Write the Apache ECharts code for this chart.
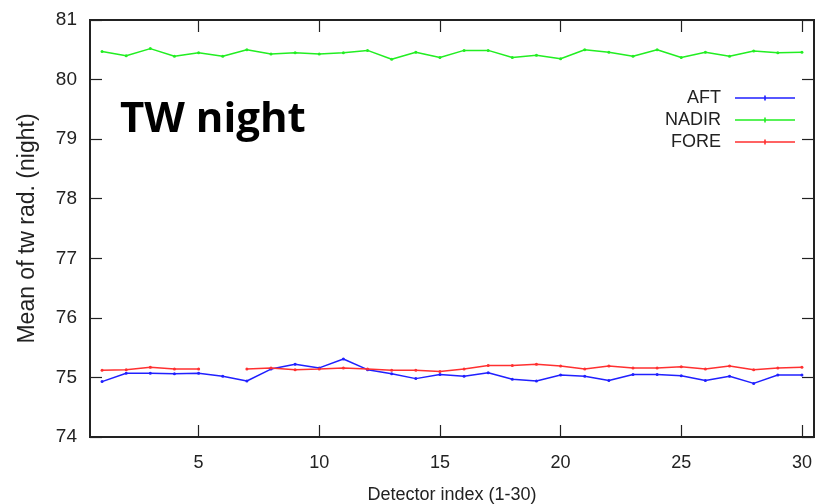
<!DOCTYPE html>
<html>
<head>
<meta charset="utf-8">
<script src="https://cdn.jsdelivr.net/npm/echarts@6/dist/echarts.min.js"></script>
<style>html,body{margin:0;padding:0;background:#fff;}#c{width:820px;height:504px;}</style>
</head>
<body>
<div id="c"></div>
<script>
const detectors = [1,2,3,4,5,6,7,8,9,10,11,12,13,14,15,16,17,18,19,20,21,22,23,24,25,26,27,28,29,30];
const aft = [74.93,75.07,75.07,75.06,75.07,75.02,74.94,75.14,75.22,75.16,75.31,75.13,75.06,74.98,75.05,
             75.02,75.08,74.97,74.94,75.04,75.02,74.95,75.05,75.05,75.03,74.95,75.02,74.90,75.04,75.04];
const nadir = [80.47,80.40,80.52,80.39,80.45,80.39,80.50,80.43,80.45,80.43,80.45,80.49,80.34,80.46,80.37,
               80.49,80.49,80.37,80.41,80.35,80.50,80.46,80.39,80.50,80.37,80.46,80.39,80.48,80.45,80.46];
const fore = [75.12,75.13,75.17,75.14,75.14,null,75.14,75.16,75.13,75.14,75.16,75.14,75.12,75.12,75.10,
              75.14,75.20,75.20,75.22,75.19,75.14,75.19,75.16,75.16,75.18,75.14,75.19,75.13,75.16,75.17];
const seriesNames = ['AFT','NADIR','FORE'];
const seriesColors = ['#2020ff','#22ee22','#ff3030'];
const xTicks = [5,10,15,20,25,30];
const yTicks = [74,75,76,77,78,79,80,81];
const titleText = 'TW night';

const chart = echarts.init(document.getElementById('c'), null, {renderer:'canvas'});
const font = 'Liberation Sans, Arial, sans-serif';
const pair = (arr) => detectors.map((d,i) => [d, arr[i]]);
const mk = (name, arr, color) => ({
  name, type:'line', data: pair(arr), xAxisIndex:0, yAxisIndex:0,
  symbol:'circle', symbolSize:3, showSymbol:true, connectNulls:false,
  lineStyle:{color, width:1.5}, itemStyle:{color}, animation:false
});
const legendIcon = 'path://M0,4.3 L60,4.3 L60,5.7 L0,5.7 Z M29.2,2.5 L30.8,2.5 L30.8,7.5 L29.2,7.5 Z';
const tickCommon = {show:true, inside:true, length:12, lineStyle:{color:'#222', width:1.2}};
chart.setOption({
  animation:false,
  backgroundColor:'#fff',
  grid:{left:90, right:6, top:20, bottom:67, show:true, borderColor:'#222', borderWidth:2, containLabel:false, outerBoundsMode:'none'},
  title:{text:titleText, left:115, top:94, textStyle:{fontFamily:'Open Sans', fontWeight:'bold', fontSize:42, color:'#000'}},
  legend:{
    orient:'vertical', right:20, top:84, align:'right', itemWidth:60, itemHeight:10, itemGap:4,
    data: seriesNames.map(n => ({name:n, icon:legendIcon})),
    textStyle:{fontFamily:font, fontSize:18, lineHeight:16, color:'#222', padding:[0,9,0,0]}
  },
  xAxis:[
    {type:'value', min:0.5, max:30.5, interval:5, position:'bottom',
     name:'Detector index (1-30)', nameLocation:'middle', nameGap:49,
     nameTextStyle:{fontFamily:font, fontSize:18, color:'#222'},
     axisLine:{show:true, lineStyle:{color:'#222', width:2}},
     axisTick:Object.assign({customValues:xTicks}, tickCommon),
     axisLabel:{customValues:xTicks, fontFamily:font, fontSize:18, color:'#222', margin:17},
     splitLine:{show:false}},
    {type:'value', min:0.5, max:30.5, position:'top',
     axisLine:{show:true, lineStyle:{color:'#222', width:2}},
     axisTick:Object.assign({customValues:xTicks}, tickCommon),
     axisLabel:{show:false}, splitLine:{show:false}}
  ],
  yAxis:[
    {type:'value', min:74, max:81, interval:1, position:'left',
     name:'Mean of tw rad. (night)', nameLocation:'middle', nameGap:51,
     nameTextStyle:{fontFamily:font, fontSize:23, color:'#222'},
     axisLine:{show:true, lineStyle:{color:'#222', width:2}},
     axisTick:tickCommon,
     axisLabel:{fontFamily:font, fontSize:19, color:'#222', margin:13},
     splitLine:{show:false}},
    {type:'value', min:74, max:81, interval:1, position:'right',
     axisLine:{show:true, lineStyle:{color:'#222', width:2}},
     axisTick:tickCommon,
     axisLabel:{show:false}, splitLine:{show:false}}
  ],
  series:[mk(seriesNames[0], aft, seriesColors[0]), mk(seriesNames[1], nadir, seriesColors[1]), mk(seriesNames[2], fore, seriesColors[2])]
});
</script>
</body>
</html>
